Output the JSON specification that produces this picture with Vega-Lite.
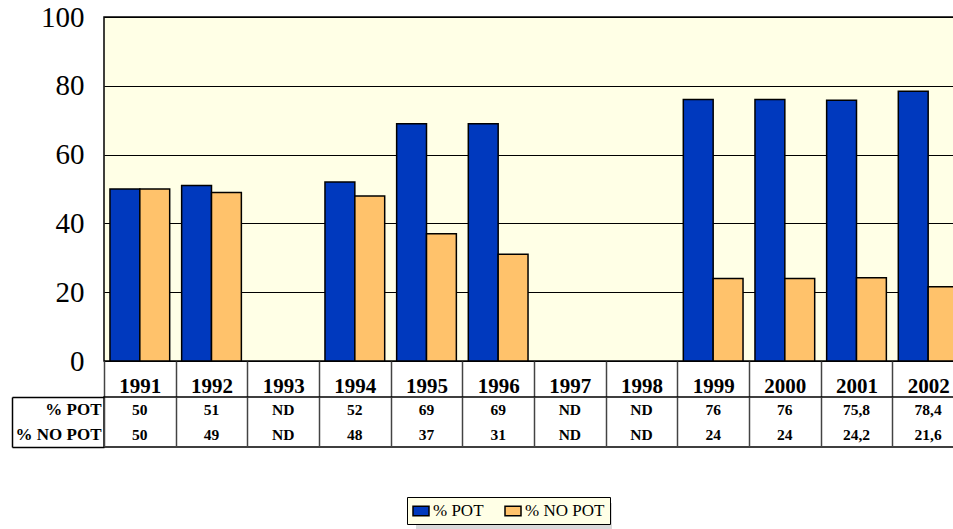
{
  "$schema": "https://vega.github.io/schema/vega-lite/v6.json",
  "padding": {"left": 10, "top": 2, "right": 0, "bottom": 0},
  "bounds": "flush",
  "spacing": 36,
  "config": {
    "font": "Liberation Serif, Times New Roman, serif",
    "axis": {"labelFont": "Liberation Serif, Times New Roman, serif", "labelColor": "black"},
    "legend": {"labelFont": "Liberation Serif, Times New Roman, serif"}
  },
  "datasets": {
    "bars": [
      {"year": "1991", "serie": "% POT", "value": 50},
      {"year": "1991", "serie": "% NO POT", "value": 50},
      {"year": "1992", "serie": "% POT", "value": 51},
      {"year": "1992", "serie": "% NO POT", "value": 49},
      {"year": "1994", "serie": "% POT", "value": 52},
      {"year": "1994", "serie": "% NO POT", "value": 48},
      {"year": "1995", "serie": "% POT", "value": 69},
      {"year": "1995", "serie": "% NO POT", "value": 37},
      {"year": "1996", "serie": "% POT", "value": 69},
      {"year": "1996", "serie": "% NO POT", "value": 31},
      {"year": "1999", "serie": "% POT", "value": 76},
      {"year": "1999", "serie": "% NO POT", "value": 24},
      {"year": "2000", "serie": "% POT", "value": 76},
      {"year": "2000", "serie": "% NO POT", "value": 24},
      {"year": "2001", "serie": "% POT", "value": 75.8},
      {"year": "2001", "serie": "% NO POT", "value": 24.2},
      {"year": "2002", "serie": "% POT", "value": 78.4},
      {"year": "2002", "serie": "% NO POT", "value": 21.6}
    ],
    "table": [
      {"year": "1991", "row": "% POT", "label": "50"},
      {"year": "1991", "row": "% NO POT", "label": "50"},
      {"year": "1992", "row": "% POT", "label": "51"},
      {"year": "1992", "row": "% NO POT", "label": "49"},
      {"year": "1993", "row": "% POT", "label": "ND"},
      {"year": "1993", "row": "% NO POT", "label": "ND"},
      {"year": "1994", "row": "% POT", "label": "52"},
      {"year": "1994", "row": "% NO POT", "label": "48"},
      {"year": "1995", "row": "% POT", "label": "69"},
      {"year": "1995", "row": "% NO POT", "label": "37"},
      {"year": "1996", "row": "% POT", "label": "69"},
      {"year": "1996", "row": "% NO POT", "label": "31"},
      {"year": "1997", "row": "% POT", "label": "ND"},
      {"year": "1997", "row": "% NO POT", "label": "ND"},
      {"year": "1998", "row": "% POT", "label": "ND"},
      {"year": "1998", "row": "% NO POT", "label": "ND"},
      {"year": "1999", "row": "% POT", "label": "76"},
      {"year": "1999", "row": "% NO POT", "label": "24"},
      {"year": "2000", "row": "% POT", "label": "76"},
      {"year": "2000", "row": "% NO POT", "label": "24"},
      {"year": "2001", "row": "% POT", "label": "75,8"},
      {"year": "2001", "row": "% NO POT", "label": "24,2"},
      {"year": "2002", "row": "% POT", "label": "78,4"},
      {"year": "2002", "row": "% NO POT", "label": "21,6"}
    ]
  },
  "vconcat": [
    {
      "width": 850,
      "height": 344,
      "data": {"name": "bars"},
      "view": {"fill": "#FFFFE6", "stroke": "black", "strokeWidth": 1.5},
      "mark": {"type": "bar", "stroke": "black", "strokeWidth": 1.5, "clip": true},
      "encoding": {
        "x": {
          "field": "year", "type": "nominal",
          "scale": {"domain": ["1991","1992","1993","1994","1995","1996","1997","1998","1999","2000","2001","2002"], "range": [0, 860], "paddingInner": 0, "paddingOuter": 0},
          "axis": {"title": null, "orient": "bottom", "domain": false, "tickBand": "extent", "tickSize": 36, "tickColor": "#444", "tickWidth": 1.5, "labelFontSize": 21, "labelFontWeight": "bold", "labelPadding": -22, "labelAngle": 0, "grid": false}
        },
        "xOffset": {
          "field": "serie", "type": "nominal",
          "scale": {"domain": ["% POT", "% NO POT"], "paddingInner": 0, "paddingOuter": 0.2}
        },
        "y": {
          "field": "value", "type": "quantitative",
          "scale": {"domain": [0, 100]},
          "axis": {"title": null, "values": [0, 20, 40, 60, 80, 100], "grid": true, "gridColor": "black", "gridWidth": 1.2, "ticks": false, "domain": false, "labelFontSize": 29, "labelPadding": 20}
        },
        "color": {
          "field": "serie", "type": "nominal",
          "scale": {"domain": ["% POT", "% NO POT"], "range": ["#0039BE", "#FFC26B"]},
          "legend": {"title": null, "orient": "none", "legendX": 303, "legendY": 480, "zindex": 2, "direction": "horizontal", "fillColor": "#FFFFE6", "strokeColor": "black", "padding": 5, "labelFontSize": 17, "labelColor": "black", "symbolType": "M-1,-0.6H1V0.6H-1Z", "symbolSize": 256, "symbolStrokeColor": "black", "symbolStrokeWidth": 1.5, "symbolOpacity": 1, "columnPadding": 18, "labelOffset": 3}
        },
        "opacity": {
          "field": "serie", "type": "nominal",
          "scale": {"domain": ["% NO POT", "% POT"], "range": [1, 1]},
          "legend": {"title": null, "orient": "none", "legendX": 312, "legendY": 486, "zindex": 1, "direction": "horizontal", "fillColor": "#D9D9D9", "padding": 5, "labelFontSize": 17, "labelExpr": "''", "labelOffset": 0, "symbolType": "square", "symbolSize": 289, "symbolFillColor": "transparent", "symbolStrokeColor": "transparent", "symbolStrokeWidth": 0, "columnPadding": 152}
        }
      }
    },
    {
      "width": 850,
      "height": 50,
      "data": {"name": "table"},
      "view": {"stroke": "black", "strokeWidth": 1.5, "fill": null},
      "mark": {"type": "text", "fontWeight": "bold", "fontSize": 15.5, "font": "Liberation Serif, Times New Roman, serif", "color": "black"},
      "encoding": {
        "x": {
          "field": "year", "type": "nominal",
          "scale": {"domain": ["1991","1992","1993","1994","1995","1996","1997","1998","1999","2000","2001","2002"], "range": [0, 860], "paddingInner": 0, "paddingOuter": 0},
          "axis": {"title": null, "orient": "bottom", "grid": true, "gridColor": "#444", "gridWidth": 1.5, "tickBand": "extent", "labels": false, "ticks": false, "domain": false}
        },
        "y": {
          "field": "row", "type": "nominal",
          "scale": {"domain": ["% POT", "% NO POT"], "paddingInner": 0, "paddingOuter": 0},
          "axis": {"title": null, "orient": "left", "offset": 92, "domain": true, "domainColor": "black", "domainWidth": 1.5, "tickBand": "extent", "tickSize": -92, "tickColor": "black", "tickWidth": 1.5, "tickOpacity": {"condition": {"test": "datum.value === '% POT'", "value": 0}, "value": 1}, "labelFontSize": 17, "labelFontWeight": "bold", "labelPadding": 3, "grid": false}
        },
        "text": {"field": "label"}
      }
    }
  ]
}
